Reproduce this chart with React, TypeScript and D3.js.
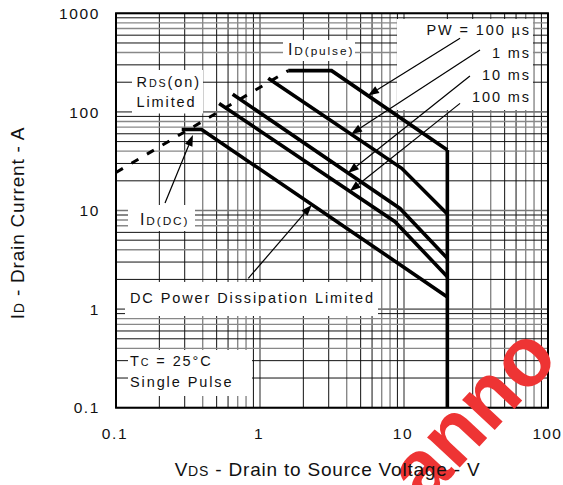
import React from "react";
import * as d3 from "d3";

const W = 563;
const H = 485;

// axes
const X_DOMAIN = [0.1, 100];
const Y_DOMAIN = [0.1, 1000];
const X_TICKS = [0.1, 1, 10, 100];
const X_TICK_LABELS = ["0.1", "1", "10", "100"];
const Y_TICKS = [0.1, 1, 10, 100, 1000];
const Y_TICK_LABELS = ["0.1", "1", "10", "100", "1000"];

// SOA curves (V, A)
const PW100US_V = [1.57, 3.14, 20];
const PW100US_I = [262, 262, 41];
const PW1MS_V = [1.14, 9.64, 20];
const PW1MS_I = [219, 26.8, 9.2];
const PW10MS_V = [0.646, 9.38, 20];
const PW10MS_I = [151, 10.5, 3.27];
const PW100MS_V = [0.52, 8.66, 20];
const PW100MS_I = [122, 7.7, 2.13];
const DC_V = [0.286, 0.393, 20];
const DC_I = [66.3, 66.3, 1.33];
const RDS_V = [0.1, 1.57];
const RDS_I = [24.3, 262];
const VDSS_V = [20, 20];
const VDSS_I = [41, 0.1];

// leader arrows: from (V, I) to (V, I)
const LEADER_FROM_V = [24.5, 33.7, 28.7, 24.5, 0.219, 0.829];
const LEADER_FROM_I = [558, 425, 231, 122, 11.9, 2.05];
const LEADER_TO_V = [5.62, 4.29, 4.08, 4.2, 0.342, 2.286];
const LEADER_TO_I = [146.8, 59.5, 24.0, 15.67, 58.3, 11.4];

const FONT = "'Liberation Sans', Arial, Helvetica, sans-serif";

const x = d3.scaleLog().domain(X_DOMAIN).range([116, 548]);
const y = d3.scaleLog().domain(Y_DOMAIN).range([407.7, 13.3]);

const line = d3
  .line<[number, number]>()
  .x((d) => x(d[0]))
  .y((d) => y(d[1]));

const zip = (vs: number[], is: number[]) =>
  vs.map((v, i) => [v, is[i]] as [number, number]);

const minorColor: Record<number, string> = {
  2: "#111",
  3: "#111",
  4: "#888",
  5: "#111",
  6: "#111",
  7: "#888",
  8: "#888",
  9: "#111",
};

function gridValues(lo: number, hi: number) {
  const out: { v: number; k: number }[] = [];
  for (let d = lo; d < hi * 0.999; d *= 10) {
    for (let k = 1; k <= 9; k++) out.push({ v: d * k, k });
  }
  out.push({ v: hi, k: 1 });
  return out;
}

const Sub = ({ children }: { children: React.ReactNode }) => (
  <tspan fontSize="0.74em">{children}</tspan>
);

export default function App() {
  const xg = gridValues(X_DOMAIN[0], X_DOMAIN[1]);
  const yg = gridValues(Y_DOMAIN[0], Y_DOMAIN[1]);
  const [x0, x1] = x.range();
  const [y0, y1] = y.range();

  const curves = [
    zip(PW100US_V, PW100US_I),
    zip(PW1MS_V, PW1MS_I),
    zip(PW10MS_V, PW10MS_I),
    zip(PW100MS_V, PW100MS_I),
    zip(DC_V, DC_I),
    zip(VDSS_V, VDSS_I),
  ];

  const leaders = LEADER_FROM_V.map((v, i) => {
    const fx = x(v),
      fy = y(LEADER_FROM_I[i]),
      tx = x(LEADER_TO_V[i]),
      ty = y(LEADER_TO_I[i]);
    const ang = Math.atan2(ty - fy, tx - fx);
    const L = 11,
      Wd = 4;
    const bx = tx - L * Math.cos(ang),
      by = ty - L * Math.sin(ang);
    const px = -Math.sin(ang) * Wd,
      py = Math.cos(ang) * Wd;
    return { fx, fy, tx, ty, bx, by, head: `${tx},${ty} ${bx + px},${by + py} ${bx - px},${by - py}` };
  });

  const annStyle = { fontFamily: FONT, fontSize: 14.5, letterSpacing: 1.9, fill: "#111" } as const;

  return (
    <svg width={W} height={H} style={{ position: "absolute", left: 0, top: 0, background: "#fff" }}>
      <rect x={0} y={0} width={W} height={H} fill="#fff" />
      {/* grid */}
      {xg.map((g, i) => (
        <line
          key={"vx" + i}
          x1={x(g.v)}
          x2={x(g.v)}
          y1={y1}
          y2={y0}
          stroke={g.k === 1 ? "#777" : minorColor[g.k]}
          strokeWidth={g.k === 1 ? 1.6 : minorColor[g.k] === "#888" ? 1.4 : 1}
        />
      ))}
      {yg.map((g, i) => (
        <line
          key={"hy" + i}
          x1={x0}
          x2={x1}
          y1={y(g.v)}
          y2={y(g.v)}
          stroke={g.k === 1 ? "#777" : minorColor[g.k]}
          strokeWidth={g.k === 1 ? 1.6 : minorColor[g.k] === "#888" ? 1.4 : 1}
        />
      ))}

      {/* white label boxes */}
      <rect x={397} y={19} width={136} height={91} fill="#fff" />
      <rect x={283} y={40} width={72} height={21} fill="#fff" />
      <rect x={132} y={70} width={71} height={43.5} fill="#fff" />
      <rect x={128} y={205} width={67} height={26} fill="#fff" />
      <rect x={125} y={282} width={253} height={34} fill="#fff" />
      <rect x={128} y={350} width={124} height={46} fill="#fff" />

      {/* RDS(on) dashed limit */}
      <path
        d={line(zip(RDS_V, RDS_I)) || ""}
        fill="none"
        stroke="#000"
        strokeWidth={3}
        strokeDasharray="8 10"
      />
      {/* SOA curves */}
      {curves.map((c, i) => (
        <path key={"c" + i} d={line(c) || ""} fill="none" stroke="#000" strokeWidth={3.6} strokeLinejoin="miter" />
      ))}

      {/* leaders */}
      {leaders.map((l, i) => (
        <g key={"l" + i}>
          <line x1={l.fx} y1={l.fy} x2={l.bx} y2={l.by} stroke="#000" strokeWidth={1.2} />
          <polygon points={l.head} fill="#000" />
        </g>
      ))}

      {/* annotations */}
      <text {...annStyle} x={531} y={35} textAnchor="end">PW = 100 µs</text>
      <text {...annStyle} x={531} y={58} textAnchor="end">1 ms</text>
      <text {...annStyle} x={531} y={80} textAnchor="end">10 ms</text>
      <text {...annStyle} x={531} y={102} textAnchor="end">100 ms</text>
      <text {...annStyle} x={288} y={55} fontSize={16}>
        I<Sub>D(pulse)</Sub>
      </text>
      <text {...annStyle} x={136.5} y={87}>
        R<Sub>DS</Sub>(on)
      </text>
      <text {...annStyle} x={136.5} y={106.5}>Limited</text>
      <text {...annStyle} x={140} y={224.5} fontSize={16}>
        I<Sub>D(DC)</Sub>
      </text>
      <text {...annStyle} x={130} y={302.5}>DC Power Dissipation Limited</text>
      <text {...annStyle} x={130} y={365.5}>
        T<Sub>C</Sub> = 25°C
      </text>
      <text {...annStyle} x={130} y={386.5}>Single Pulse</text>

      {/* frame */}
      <rect x={x0} y={y1} width={x1 - x0} height={y0 - y1} fill="none" stroke="#000" strokeWidth={2} />

      {/* watermark */}
      <text
        transform="translate(424,506) rotate(-47)"
        fontFamily={FONT}
        fontWeight="bold"
        fontSize={84}
        fill="#ee3434"
      >
        anno
      </text>

      {/* tick labels */}
      {Y_TICKS.map((t, i) => (
        <text
          key={"yt" + i}
          x={100}
          y={y(t) + 5.6}
          textAnchor="middle"
          dx={0}
          fontFamily={FONT}
          fontSize={15.5}
          letterSpacing={1.6}
          fill="#111"
          style={{ textAnchor: "end" }}
        >
          {Y_TICK_LABELS[i]}
        </text>
      ))}
      {X_TICKS.map((t, i) => {
        const last = i === X_TICKS.length - 1;
        return (
          <text
            key={"xt" + i}
            x={last ? 562 : x(t) - 1}
            y={438.5}
            textAnchor={last ? "end" : "middle"}
            fontFamily={FONT}
            fontSize={15.5}
            letterSpacing={last ? 1.2 : 1.6}
            fill="#111"
          >
            {X_TICK_LABELS[i]}
          </text>
        );
      })}

      {/* axis titles */}
      <text
        x={327.5}
        y={476}
        textAnchor="middle"
        fontFamily={FONT}
        fontSize={19}
        letterSpacing={0.8}
        fill="#111"
      >
        V<Sub>DS</Sub> - Drain to Source Voltage - V
      </text>
      <text
        transform="translate(24,223) rotate(-90)"
        textAnchor="middle"
        fontFamily={FONT}
        fontSize={19}
        letterSpacing={0.8}
        fill="#111"
      >
        I<Sub>D</Sub> - Drain Current - A
      </text>
    </svg>
  );
}
